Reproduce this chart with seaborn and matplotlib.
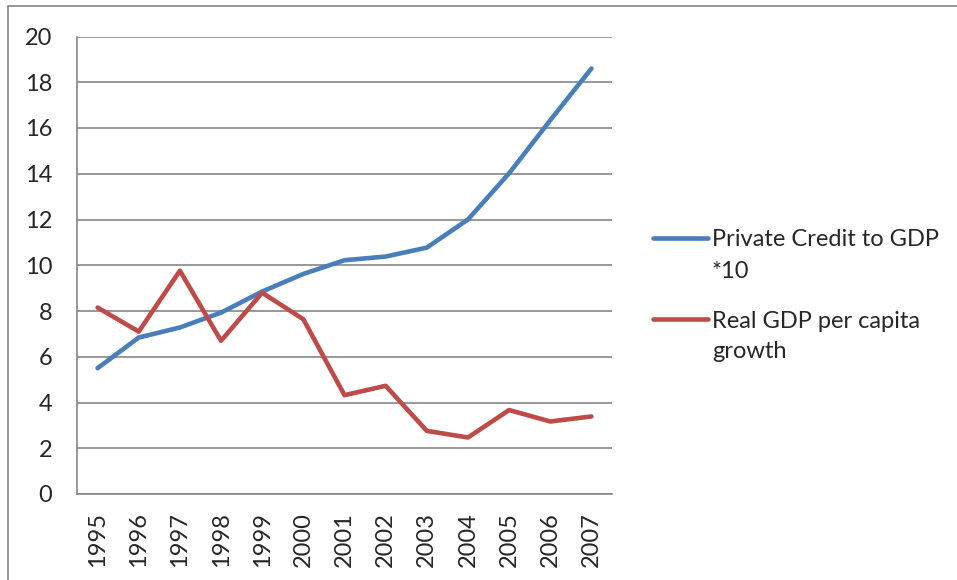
import matplotlib
matplotlib.use('Agg')
import matplotlib.pyplot as plt
import seaborn as sns
import pandas as pd
from matplotlib.patches import Rectangle
from matplotlib.lines import Line2D

# 数据
years = ['1995', '1996', '1997', '1998', '1999', '2000', '2001',
         '2002', '2003', '2004', '2005', '2006', '2007']
credit_x10 = [5.5, 6.84, 7.28, 7.93, 8.85, 9.62, 10.22, 10.38, 10.77, 12.0, 14.02, 16.34, 18.6]
gdp_growth = [8.15, 7.1, 9.76, 6.7, 8.8, 7.64, 4.32, 4.73, 2.76, 2.47, 3.67, 3.17, 3.39]
series_names = ['Private Credit to GDP\n*10', 'Real GDP per capita\ngrowth']
colors = ['#4A7EBB', '#BE4B48']

df = pd.DataFrame({
    'pos': list(range(len(years))) * 2,
    'value': credit_x10 + gdp_growth,
    'series': [series_names[0]] * len(years) + [series_names[1]] * len(years),
})

sns.set_style('white')
plt.rcParams['font.family'] = ['Lato', 'DejaVu Sans']

fig = plt.figure(figsize=(9.57, 5.8), dpi=100)
ax = fig.add_axes([77 / 957, 1 - 494 / 580, (612 - 77) / 957, (494 - 36.5) / 580])

sns.lineplot(data=df, x='pos', y='value', hue='series', palette=colors,
             linewidth=3.3, ax=ax, legend=False)

grey = '#868686'
ax.set_xlim(-0.5, len(years) - 0.5)
ax.set_ylim(0, 20)
ax.set_yticks(range(0, 21, 2))
ax.set_xticks(range(len(years)))
ax.set_xticklabels(years, rotation=90)
ax.set_xticks([i - 0.5 for i in range(len(years) + 1)], minor=True)
ax.tick_params(axis='x', which='major', length=0, pad=13, labelsize=17)
ax.tick_params(axis='x', which='minor', length=5.8, width=1.2, color=grey, direction='out')
ax.tick_params(axis='y', length=5.8, width=1.2, color=grey, direction='out', pad=12, labelsize=17)
ax.set_xlabel('')
ax.set_ylabel('')
ax.grid(True, axis='y', color=grey, linewidth=1.2)
ax.set_axisbelow(True)
for s in ['top', 'right']:
    ax.spines[s].set_visible(False)
for s in ['left', 'bottom']:
    ax.spines[s].set_color(grey)
    ax.spines[s].set_linewidth(1.2)

# 图例（手动画，线对齐第一行）
legend_y = [238, 319]
for name, c, ly in zip(series_names, colors, legend_y):
    fig.add_artist(Line2D([653 / 957, 708 / 957], [1 - ly / 580] * 2,
                          transform=fig.transFigure, color=c, linewidth=3.3,
                          solid_capstyle='round'))
    first, second = name.split('\n')
    fig.text(712 / 957, 1 - (ly + 8.5) / 580, first, fontsize=17, va='baseline')
    fig.text(712 / 957, 1 - (ly + 39.5) / 580, second, fontsize=17, va='baseline')

# 外框
fig.patches.append(Rectangle((8 / 957, -0.1), 1.2, 1 - 6 / 580 + 0.1,
                             transform=fig.transFigure, fill=False,
                             edgecolor=grey, linewidth=1.2))

fig.savefig('out.png', dpi=100)
